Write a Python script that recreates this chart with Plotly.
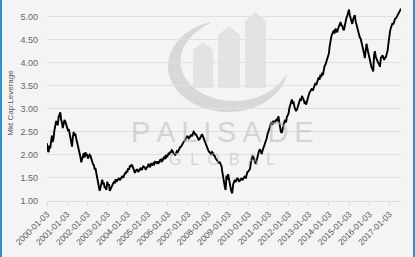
import numpy as np
import pandas as pd
import plotly.graph_objects as go

# ---- data: semi-monthly readings (1st and 15th of each month) ----
v2000 = [2.25, 2.10, 2.06, 2.20, 2.14, 2.34, 2.42, 2.28, 2.36, 2.52, 2.62, 2.72,
         2.72, 2.64, 2.82, 2.86, 2.92, 2.76, 2.70, 2.58, 2.66, 2.76, 2.72, 2.66]
v2001 = [2.62, 2.54, 2.56, 2.46, 2.40, 2.28, 2.18, 2.38, 2.50, 2.42, 2.46, 2.36,
         2.28, 2.20, 2.16, 2.04, 1.95, 1.84, 1.92, 1.98, 2.04, 1.94, 2.06, 1.98]
v2002 = [2.02, 1.92, 1.96, 2.00, 1.98, 1.90, 1.88, 1.80, 1.78, 1.70, 1.70, 1.60,
         1.55, 1.42, 1.35, 1.22, 1.30, 1.36, 1.46, 1.38, 1.38, 1.28, 1.32, 1.24]
v2003 = [1.42, 1.34, 1.36, 1.22, 1.26, 1.30, 1.32, 1.40, 1.42, 1.38, 1.47, 1.42,
         1.45, 1.49, 1.50, 1.45, 1.49, 1.53, 1.54, 1.50, 1.57, 1.60, 1.60, 1.64]
v2004 = [1.64, 1.71, 1.68, 1.77, 1.74, 1.79, 1.76, 1.69, 1.66, 1.61, 1.65, 1.68,
         1.68, 1.63, 1.66, 1.71, 1.72, 1.67, 1.70, 1.75, 1.74, 1.69, 1.68, 1.73]
v2005 = [1.74, 1.79, 1.78, 1.73, 1.82, 1.78, 1.78, 1.82, 1.80, 1.85, 1.84, 1.81,
         1.86, 1.82, 1.84, 1.89, 1.90, 1.86, 1.88, 1.93, 1.95, 1.91, 2.00, 1.96]
v2006 = [1.98, 2.03, 2.02, 2.06, 2.06, 2.10, 2.08, 2.03, 2.02, 1.99, 2.04, 2.08,
         2.06, 2.11, 2.12, 2.17, 2.18, 2.22, 2.24, 2.28, 2.30, 2.34, 2.36, 2.40]
v2007 = [2.40, 2.36, 2.38, 2.43, 2.44, 2.40, 2.46, 2.50, 2.48, 2.44, 2.44, 2.39,
         2.38, 2.33, 2.34, 2.39, 2.42, 2.45, 2.40, 2.35, 2.30, 2.25, 2.22, 2.15]
v2008 = [2.12, 2.07, 2.06, 2.01, 2.00, 2.06, 2.04, 1.99, 1.98, 1.93, 1.90, 1.86,
         1.86, 1.83, 1.84, 1.79, 1.76, 1.64, 1.50, 1.36, 1.30, 1.24, 1.55, 1.46]
v2009 = [1.58, 1.48, 1.40, 1.28, 1.20, 1.17, 1.36, 1.44, 1.46, 1.41, 1.44, 1.49,
         1.48, 1.43, 1.44, 1.49, 1.50, 1.45, 1.48, 1.53, 1.54, 1.49, 1.58, 1.63]
v2010 = [1.64, 1.69, 1.70, 1.82, 1.90, 1.97, 1.96, 1.88, 1.86, 1.80, 1.90, 1.97,
         2.04, 2.09, 2.12, 2.05, 2.02, 2.09, 2.14, 2.21, 2.26, 2.31, 2.36, 2.45]
v2011 = [2.50, 2.57, 2.62, 2.69, 2.70, 2.65, 2.74, 2.69, 2.72, 2.77, 2.78, 2.73,
         2.84, 2.72, 2.60, 2.50, 2.48, 2.57, 2.62, 2.71, 2.76, 2.70, 2.82, 2.87]
v2012 = [2.90, 3.01, 3.10, 3.17, 3.20, 3.13, 3.14, 3.05, 3.00, 2.95, 2.98, 3.05,
         3.10, 3.17, 3.22, 3.17, 3.28, 3.23, 3.20, 3.13, 3.14, 3.09, 3.18, 3.25]
v2013 = [3.30, 3.35, 3.38, 3.43, 3.44, 3.39, 3.46, 3.51, 3.56, 3.51, 3.58, 3.63,
         3.68, 3.63, 3.74, 3.69, 3.78, 3.73, 3.86, 3.93, 3.96, 4.01, 4.06, 4.13]
v2014 = [4.20, 4.35, 4.50, 4.57, 4.62, 4.67, 4.70, 4.63, 4.74, 4.69, 4.66, 4.73,
         4.78, 4.85, 4.88, 4.81, 4.80, 4.73, 4.70, 4.79, 4.92, 4.97, 5.02, 5.09]
v2015 = [5.15, 5.03, 4.95, 4.85, 4.84, 4.93, 4.98, 5.03, 4.90, 4.83, 4.76, 4.69,
         4.62, 4.55, 4.52, 4.45, 4.40, 4.28, 4.20, 4.10, 4.36, 4.41, 4.30, 4.21]
v2016 = [4.14, 4.03, 3.96, 3.89, 3.86, 3.81, 4.18, 4.25, 4.12, 4.07, 4.06, 3.99,
         3.96, 3.91, 4.10, 4.15, 4.16, 4.11, 4.06, 4.11, 4.12, 4.19, 4.26, 4.40]
v2017 = [4.60, 4.69, 4.76, 4.83, 4.86, 4.83, 4.90, 4.95, 4.96, 4.99, 5.02, 5.07,
         5.10, 5.14, 5.17]

tick_years = list(range(2000, 2018))
tick_labels = [f"{y}-01-03" for y in tick_years]
y_ticks = [1.0, 1.5, 2.0, 2.5, 3.0, 3.5, 4.0, 4.5, 5.0]

values = (v2000 + v2001 + v2002 + v2003 + v2004 + v2005 + v2006 + v2007 + v2008 +
          v2009 + v2010 + v2011 + v2012 + v2013 + v2014 + v2015 + v2016 + v2017)
dates = pd.date_range("2000-01-01", periods=len(values), freq="SMS")
dates = [pd.Timestamp("2000-01-03")] + list(dates[1:])

# ---- layout geometry (pixels) ----
W, H = 415, 257
ML, MR, MT, MB = 47, 14, 5, 56
PW, PH = W - ML - MR, H - MT - MB


def px(x):
    return (x - ML) / PW


def py(y):
    return (H - MB - y) / PH


fig = go.Figure()
fig.add_trace(go.Scatter(x=dates, y=values, mode="lines",
                         line=dict(color="#000000", width=1.9),
                         hoverinfo="skip", showlegend=False))

shapes = []
# watermark logo: crescent
n = 60
cx, cy, rx, ry = 228, 66, 60, 46
th = np.linspace(np.deg2rad(105), np.deg2rad(350), n)
s = np.linspace(0, 1, n)
w = 15 * np.sin(np.pi * s) ** 0.8
ox = cx + rx * np.cos(th)
oy = cy - ry * np.sin(th)
ix = cx + (rx - w) * np.cos(th)
iy = cy - (ry - w * 0.85) * np.sin(th)
pts = [(ox[i], oy[i]) for i in range(n)] + [(ix[i], iy[i]) for i in range(n - 1, -1, -1)]
path = "M " + " L ".join(f"{px(a):.4f},{py(b):.4f}" for a, b in pts) + " Z"
shapes.append(dict(type="path", xref="paper", yref="paper", path=path,
                   fillcolor="#d8d8d8", line=dict(width=0), layer="below"))
# watermark logo: three house-shaped columns
for x0, x1, top, shoulder in [(193, 213, 42, 50), (218, 240, 26, 35), (245, 266, 12, 21)]:
    bottom = 88
    p = [(x0, bottom), (x0, shoulder), ((x0 + x1) / 2, top), (x1, shoulder), (x1, bottom)]
    pp = "M " + " L ".join(f"{px(a):.4f},{py(b):.4f}" for a, b in p) + " Z"
    shapes.append(dict(type="path", xref="paper", yref="paper", path=pp,
                       fillcolor="#e3e3e3", line=dict(width=0), layer="below"))
# blue side borders
shapes.append(dict(type="rect", xref="paper", yref="paper", x0=px(0), x1=px(2),
                   y0=py(H), y1=py(0), fillcolor="#2f8fd6", line=dict(width=0)))
shapes.append(dict(type="rect", xref="paper", yref="paper", x0=px(413), x1=px(415),
                   y0=py(H), y1=py(0), fillcolor="#2f8fd6", line=dict(width=0)))

annotations = [
    dict(text="P\u2009A\u2009L\u2009I\u2009S\u2009A\u2009D\u2009E", xref="paper", yref="paper",
         x=px(222), y=py(132), showarrow=False, xanchor="center", yanchor="middle",
         font=dict(family="Liberation Sans, Arial", size=29, color="rgba(185,185,185,0.55)")),
    dict(text="G  L  O  B  A  L", xref="paper", yref="paper",
         x=px(222), y=py(159), showarrow=False, xanchor="center", yanchor="middle",
         font=dict(family="Liberation Sans, Arial", size=16, color="rgba(185,185,185,0.55)")),
]

fig.update_layout(
    width=W, height=H,
    margin=dict(l=ML, r=MR, t=MT, b=MB, pad=0),
    paper_bgcolor="#f4f4f4", plot_bgcolor="rgba(0,0,0,0)",
    shapes=shapes, annotations=annotations,
    font=dict(family="Liberation Sans, Arial", color="#555555"),
    xaxis=dict(type="date", tickmode="array",
               tickvals=[pd.Timestamp(t) for t in tick_labels], ticktext=tick_labels,
               tickangle=-45, tickfont=dict(size=8.5, color="#555555"),
               showgrid=False, zeroline=False, showline=True, linecolor="#dddddd",
               linewidth=1, ticks="outside", ticklen=4, tickcolor="#dddddd",
               range=[dates[0], dates[-1]]),
    yaxis=dict(range=[1.0, 5.25], tickmode="array", tickvals=y_ticks,
               tickformat=".2f", tickfont=dict(size=9, color="#666666"),
               showgrid=True, gridcolor="#e0e0e0", gridwidth=1, zeroline=False,
               showline=False, ticks="", ticklabelstandoff=8,
               title=dict(text="Mkt Cap:Leverage", font=dict(size=8, color="#555555"),
                          standoff=5)),
)

fig.write_html("out.html")
